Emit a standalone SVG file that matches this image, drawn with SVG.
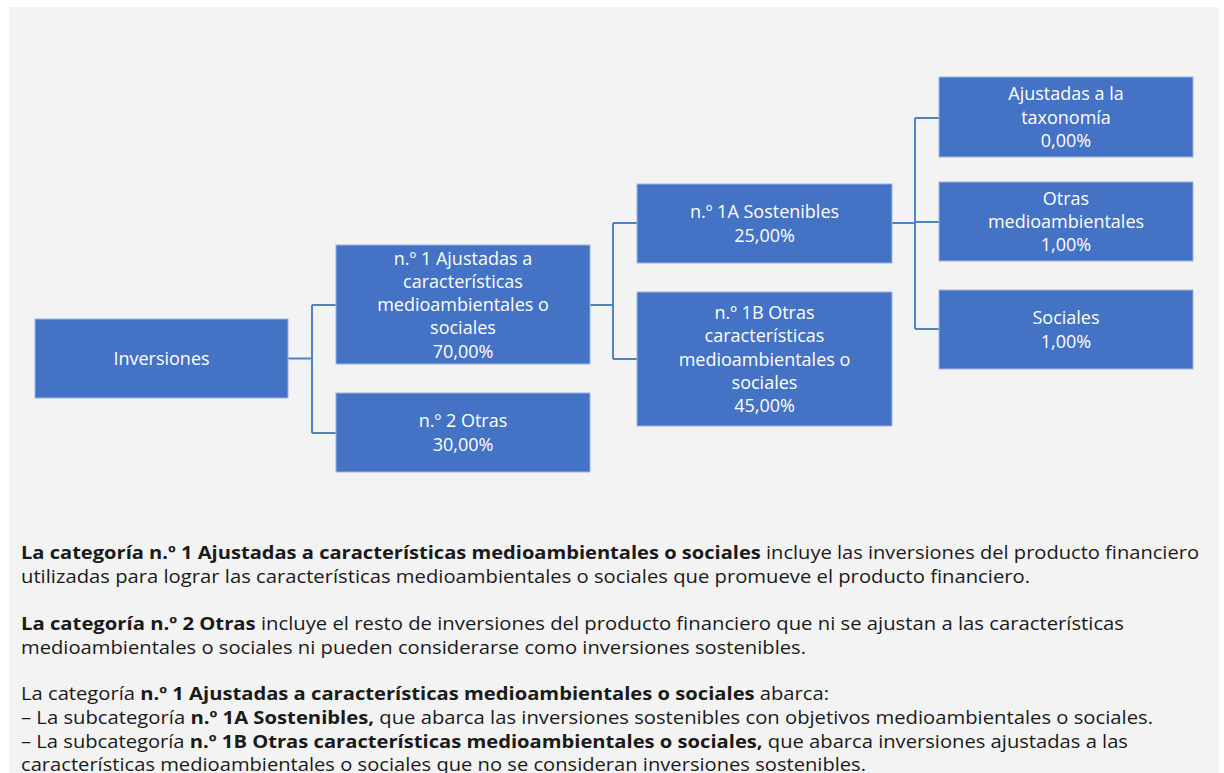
<svg xmlns="http://www.w3.org/2000/svg" width="1224" height="773" viewBox="0 0 1224 773">
<style>
.box{fill:#4472C4;stroke:#9db4df;stroke-width:1}
.bt{font-family:"Open Sans","Noto Sans",sans-serif;font-size:18px;fill:#ffffff;text-anchor:middle}
.conn{fill:none;stroke:#4f84c0;stroke-width:2}
.p{font-family:"Open Sans","Noto Sans",sans-serif;font-size:17.5px;fill:#1a1a1a}
.b{font-weight:bold}
</style>
<rect x="0" y="0" width="1224" height="773" fill="#ffffff"/>
<rect x="9" y="7" width="1210" height="766" fill="#f3f3f3"/>
<g id="connectors">
<path class="conn" d="M288,358.5 H312 M312,305 V433 M312,305 H336 M312,433 H336"/>
<path class="conn" d="M590,305 H613 M613,223 V359 M613,223 H637 M613,359 H637"/>
<path class="conn" d="M892,223 H915 M915,118 V329 M915,118 H939 M915,222 H939 M915,329 H939"/>
</g>
<g id="inversiones">
<rect class="box" x="35" y="319" width="253" height="79"/>
<text class="bt" x="161.5" y="365">Inversiones</text>
</g>
<g id="n1">
<rect class="box" x="336" y="245" width="254" height="119"/>
<text class="bt" x="463" y="264.5">n.º 1 Ajustadas a</text>
<text class="bt" x="463" y="287.75">características</text>
<text class="bt" x="463" y="311">medioambientales o</text>
<text class="bt" x="463" y="334.25">sociales</text>
<text class="bt" x="463" y="357.5">70,00%</text>
</g>
<g id="n2">
<rect class="box" x="336" y="393" width="254" height="79"/>
<text class="bt" x="463" y="427.4">n.º 2 Otras</text>
<text class="bt" x="463" y="450.6">30,00%</text>
</g>
<g id="n1a">
<rect class="box" x="637" y="184" width="255" height="79"/>
<text class="bt" x="764.5" y="218.4">n.º 1A Sostenibles</text>
<text class="bt" x="764.5" y="241.6">25,00%</text>
</g>
<g id="n1b">
<rect class="box" x="637" y="292" width="255" height="134"/>
<text class="bt" x="764.5" y="319">n.º 1B Otras</text>
<text class="bt" x="764.5" y="342.25">características</text>
<text class="bt" x="764.5" y="365.5">medioambientales o</text>
<text class="bt" x="764.5" y="388.75">sociales</text>
<text class="bt" x="764.5" y="412">45,00%</text>
</g>
<g id="taxonomia">
<rect class="box" x="939" y="77" width="254" height="80"/>
<text class="bt" x="1066" y="100.25">Ajustadas a la</text>
<text class="bt" x="1066" y="123.5">taxonomía</text>
<text class="bt" x="1066" y="146.75">0,00%</text>
</g>
<g id="otras-medio">
<rect class="box" x="939" y="182" width="254" height="79"/>
<text class="bt" x="1066" y="204.75">Otras</text>
<text class="bt" x="1066" y="228">medioambientales</text>
<text class="bt" x="1066" y="251.25">1,00%</text>
</g>
<g id="sociales">
<rect class="box" x="939" y="290" width="254" height="79"/>
<text class="bt" x="1066" y="324.4">Sociales</text>
<text class="bt" x="1066" y="347.6">1,00%</text>
</g>
<g id="texto">
<text class="p" x="21" y="559" textLength="1178" lengthAdjust="spacingAndGlyphs"><tspan class="b">La categoría n.º 1 Ajustadas a características medioambientales o sociales</tspan> incluye las inversiones del producto financiero</text>
<text class="p" x="21" y="583" textLength="1009" lengthAdjust="spacingAndGlyphs">utilizadas para lograr las características medioambientales o sociales que promueve el producto financiero.</text>
<text class="p" x="21" y="630" textLength="1103" lengthAdjust="spacingAndGlyphs"><tspan class="b">La categoría n.º 2 Otras</tspan> incluye el resto de inversiones del producto financiero que ni se ajustan a las características</text>
<text class="p" x="21" y="653.5" textLength="785" lengthAdjust="spacingAndGlyphs">medioambientales o sociales ni pueden considerarse como inversiones sostenibles.</text>
<text class="p" x="21" y="700" textLength="808" lengthAdjust="spacingAndGlyphs">La categoría <tspan class="b">n.º 1 Ajustadas a características medioambientales o sociales</tspan> abarca:</text>
<text class="p" x="21" y="724" textLength="1132" lengthAdjust="spacingAndGlyphs">– La subcategoría <tspan class="b">n.º 1A Sostenibles,</tspan> que abarca las inversiones sostenibles con objetivos medioambientales o sociales.</text>
<text class="p" x="21" y="747.5" textLength="1107" lengthAdjust="spacingAndGlyphs">– La subcategoría <tspan class="b">n.º 1B Otras características medioambientales o sociales,</tspan> que abarca inversiones ajustadas a las</text>
<text class="p" x="21" y="771" textLength="845" lengthAdjust="spacingAndGlyphs">características medioambientales o sociales que no se consideran inversiones sostenibles.</text>
</g>
</svg>
